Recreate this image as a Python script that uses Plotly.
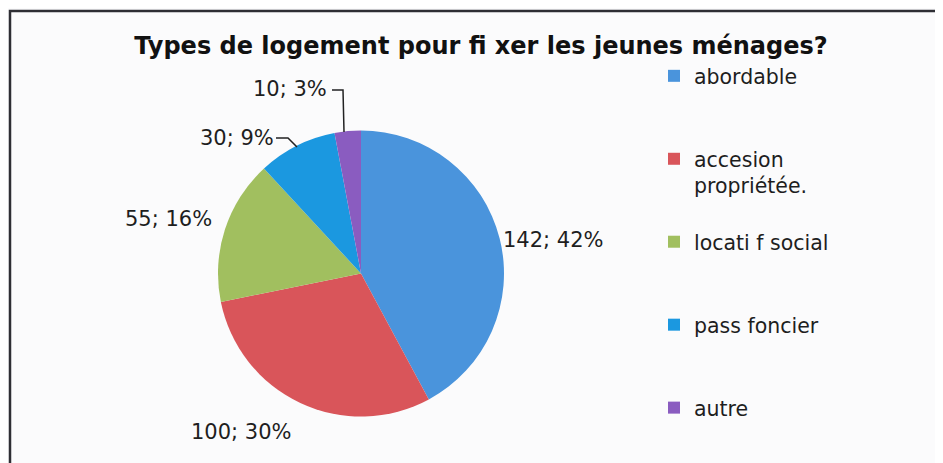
import plotly.graph_objects as go

# ---- data ----
categories = ["abordable", "accesion<br>propriétée.", "locati f social", "pass foncier", "autre"]
values = [142, 100, 55, 30, 10]
colors = ["#4a94dc", "#d9555a", "#a1bf5f", "#1b98e0", "#8a5cc0"]
title_text = "Types de logement pour fi xer les jeunes ménages?"

# ---- layout helpers (window pixel -> paper; page body has an 8px margin) ----
W, H = 943, 463
OFF = 8
def px(x):
    return (x - OFF) / W
def py(y):
    return 1 - (y - OFF) / H

total = sum(values)
label_texts = [f"{v}; {round(100 * v / total)}%" for v in values]

# legend labels padded to three lines so items are spaced like the original
# (the last item needs no padding below it)
legend_labels = []
for i, c in enumerate(categories):
    n = c.count("<br>") + 1
    pad = 0 if i == len(categories) - 1 else 3 - n
    legend_labels.append(c + "<br> " * pad)

fig = go.Figure(go.Pie(
    labels=legend_labels,
    values=values,
    sort=False,
    direction="clockwise",
    rotation=0,
    marker=dict(colors=colors, line=dict(width=0)),
    textinfo="none",
    hoverinfo="label+value+percent",
    domain=dict(x=[px(218), px(504)], y=[py(417), py(130)]),
))

# data label positions (pixel centres)
label_pos = [(553, 240), (241, 432), (168, 219), (237, 138), (290, 89)]
for t, (x, y) in zip(label_texts, label_pos):
    fig.add_annotation(x=px(x), y=py(y), xref="paper", yref="paper", text=t,
                       showarrow=False, xanchor="center", yanchor="middle",
                       font=dict(family="DejaVu Sans", size=21, color="#1e1e1e"))

shapes = [
    # frame
    dict(type="rect", xref="paper", yref="paper", x0=px(10), y0=py(11), x1=px(990), y1=py(520),
         line=dict(color="#2e2e34", width=2.5), fillcolor="rgba(0,0,0,0)", layer="below"),
    # leader lines
    dict(type="path", xref="paper", yref="paper",
         path=f"M {px(276)} {py(138)} L {px(288)} {py(138)} L {px(297)} {py(147)}",
         line=dict(color="#222", width=1.5)),
    dict(type="path", xref="paper", yref="paper",
         path=f"M {px(332)} {py(90)} L {px(343)} {py(90)} L {px(344)} {py(132)}",
         line=dict(color="#222", width=1.5)),
]

fig.update_layout(
    width=W, height=H,
    margin=dict(l=0, r=0, t=0, b=0),
    paper_bgcolor="#fbfbfc",
    plot_bgcolor="#fbfbfc",
    shapes=shapes,
    title=dict(text=f"<b>{title_text}</b>", x=px(481), y=py(46), xanchor="center", yanchor="middle",
               font=dict(family="DejaVu Sans", size=24, color="#111")),
    showlegend=True,
    legend=dict(x=px(654), y=py(56), xanchor="left", yanchor="top",
                font=dict(family="DejaVu Sans", size=20.5, color="#1e1e1e"),
                valign="top", bgcolor="rgba(0,0,0,0)", traceorder="normal",
                itemclick=False, itemdoubleclick=False),
)

fig.write_html("out.html")
